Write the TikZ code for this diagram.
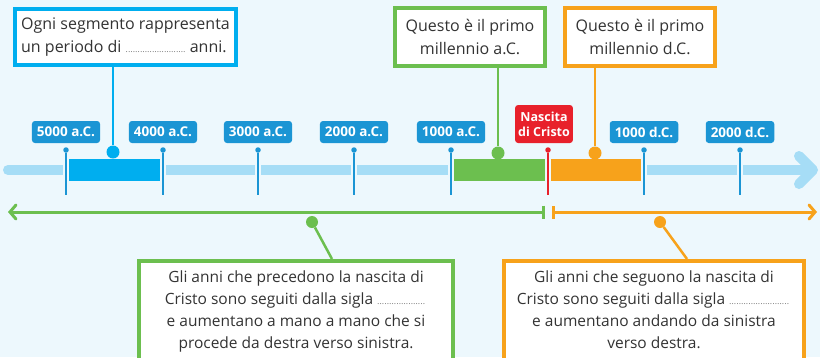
\documentclass[tikz,border=0pt]{standalone}
\usepackage{fontspec}
\setmainfont{Open Sans}
\usetikzlibrary{arrows.meta}
\definecolor{bg}{HTML}{EDF8FD}
\definecolor{barc}{HTML}{A6DDF6}
\definecolor{tickc}{HTML}{1B95D4}
\definecolor{segb}{HTML}{00AEEF}
\definecolor{gr}{HTML}{6CBF4F}
\definecolor{orc}{HTML}{F7A21B}
\definecolor{redc}{HTML}{E8212B}
\definecolor{txt}{HTML}{333333}
\newcommand{\blankdots}[1]{\hbox to #1{\fontsize{7}{7}\selectfont\leaders\hbox to 2.4pt{\hss.\hss}\hfill}}
\begin{document}
\begin{tikzpicture}[x=1pt,y=-1pt,
  yearlab/.style={fill=tickc,text=white,rounded corners=3pt,inner xsep=5pt,inner ysep=0pt,minimum height=22pt,font=\bfseries\fontsize{13.5}{14}\selectfont},
  topbox/.style={draw,line width=4pt,fill=white,inner sep=0pt,text=txt,font=\fontsize{16}{22.5}\selectfont},
  lowbox/.style={draw,line width=4pt,fill=white,anchor=north,inner xsep=0pt,inner ysep=10pt,text depth=30pt,text=txt,align=center,font=\fontsize{15.5}{22}\selectfont},
  bigdot/.style={circle,fill,inner sep=0pt,minimum size=13pt},
  conn/.style={line width=2.5pt},
  tickline/.style={tickc,line width=1.5pt}]
\useasboundingbox[fill=bg] (0,0) rectangle (820,357);
\clip (0,0) rectangle (820,357);
% main bar
\coordinate (bs) at (8,170);
\coordinate (be) at (812,170);
\coordinate (ht) at (813,170);
\coordinate (ha) at (799,156);
\coordinate (hb) at (799,184);
\draw[barc,line width=10pt,line cap=round] (bs) -- (be);
\draw[barc,line width=10pt,line cap=round,line join=round] (ha) -- (ht) -- (hb);
% segments
\fill[segb] (68,159) rectangle (160,181);
\fill[gr] (453,159) rectangle (545,181);
\fill[orc] (551,159) rectangle (643,181);
% ticks
\foreach \x/\lab/\nm in {66/5000 a.C./t1,163/4000 a.C./t2,258/3000 a.C./t3,354/2000 a.C./t4,451/1000 a.C./t5,644/1000 d.C./t7,740/2000 d.C./t8}{
  \draw[bg,line width=6pt] (\x,153) -- (\x,195);
  \node[circle,fill=tickc,inner sep=0pt,minimum size=5.5pt] (\nm) at (\x,150) {};
  \coordinate (\nm b) at (\x,195);
  \draw[tickline] (\nm) -- (\nm b);
  \node[yearlab] (\nm l) at (\x,132) {\lab};
}
\draw[bg,line width=6pt] (548,153) -- (548,195);
\node[circle,fill=redc,inner sep=0pt,minimum size=5.5pt] (t6) at (548,150) {};
\coordinate (t6b) at (548,195);
\draw[redc,line width=1.5pt] (t6) -- (t6b);
\node[yearlab,fill=redc,minimum height=38pt,inner xsep=3pt,align=center,font=\bfseries\fontsize{12.5}{15}\selectfont] (t6l) at (544,124) {Nascita\\di Cristo};
% top boxes
\node[topbox,draw=segb,minimum width=221pt,minimum height=56pt,align=left] (bbox) at (125.5,37) {Ogni segmento rappresenta\\un periodo di \blankdots{60pt} anni.};
\node[topbox,draw=gr,minimum width=150pt,minimum height=58pt,align=center] (gbox) at (470,37) {Questo è il primo\\millennio a.C.};
\node[topbox,draw=orc,minimum width=150pt,minimum height=58pt,align=center] (obox) at (640,37) {Questo è il primo\\millennio d.C.};
\node[bigdot,segb] (bdot) at (113,152) {};
\node[bigdot,gr] (gdot) at (498,153) {};
\node[bigdot,orc] (odot) at (595,153) {};
\draw[conn,segb] (bbox.south -| bdot) -- (bdot);
\draw[conn,gr] (gbox.south -| gdot) -- (gdot);
\draw[conn,orc] (obox.south -| odot) -- (odot);
% lower arrows
\coordinate (gl) at (8,212);
\coordinate (gre) at (545,212);
\coordinate (ol) at (552,212);
\coordinate (ore) at (817,212);
\draw[gr,line width=3pt,{Straight Barb[length=6pt,width=14pt,line cap=round]}-{Bar[width=13pt]}] (gl) -- (gre);
\draw[orc,line width=3pt,{Bar[width=13pt]}-{Straight Barb[length=6pt,width=14pt,line cap=round]}] (ol) -- (ore);
\node[bigdot,gr,minimum size=12pt] (gdot2) at (312,222) {};
\node[bigdot,orc,minimum size=12pt] (odot2) at (660,222) {};
\node[lowbox,draw=gr,minimum width=314pt] (glow) at (296,259) {Gli anni che precedono la nascita di\\Cristo sono seguiti dalla sigla \blankdots{50pt}\\e aumentano a mano a mano che si\\procede da destra verso sinistra.};
\node[lowbox,draw=orc,minimum width=300pt] (olow) at (654,259) {Gli anni che seguono la nascita di\\Cristo sono seguiti dalla sigla \blankdots{62pt}\\e aumentano andando da sinistra\\verso destra.};
\coordinate (gc) at (332,259);
\coordinate (oc) at (687,259);
\draw[conn,gr] (gdot2) -- (gc);
\draw[conn,orc] (odot2) -- (oc);
\end{tikzpicture}
\end{document}
